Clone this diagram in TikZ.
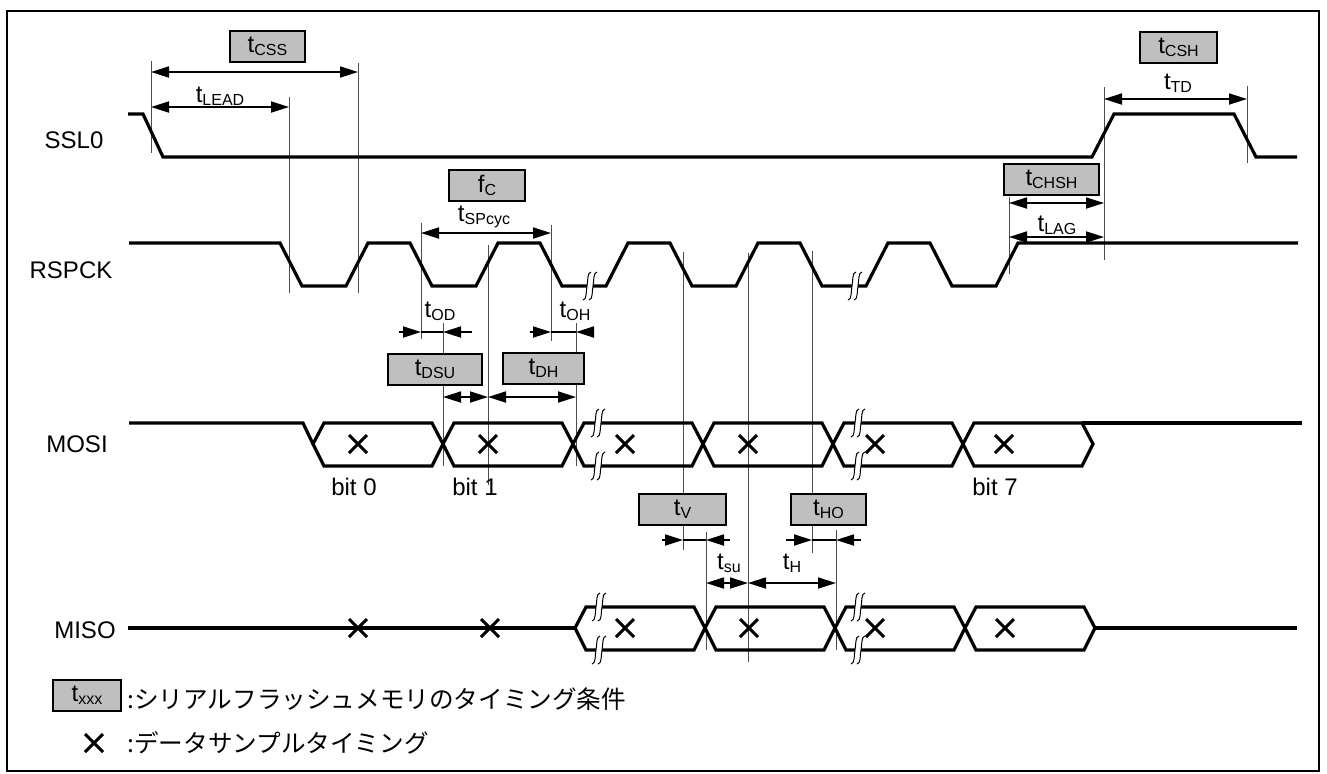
\documentclass[tikz,border=0pt]{standalone}
\usepackage{fontspec}
\setmainfont{Liberation Sans}
\newfontfamily\jp{Noto Sans CJK JP}
\usetikzlibrary{arrows.meta}
\newcommand{\tsb}[2]{#1\raisebox{-1.5pt}{\fontsize{8}{9}\selectfont #2}}

\tikzset{
	brk/.pic={
		\fill[white] (1,-14) .. controls (-3,-14) and (-2,-4) .. (-3,0) .. controls (-4,4) and (-3,14) .. (-7,14) -- (-1,14) .. controls (3,14) and (2,4) .. (3,0) .. controls (4,-4) and (3,-14) .. (7,-14) -- cycle;
		\draw[line width=0.5pt] (1,-14) .. controls (-3,-14) and (-2,-4) .. (-3,0) .. controls (-4,4) and (-3,14) .. (-7,14);
		\draw[line width=0.5pt] (7,-14) .. controls (3,-14) and (4,-4) .. (3,0) .. controls (2,4) and (3,14) .. (-1,14);
	},
	smp/.pic={
		\draw[line width=1.5pt] (-9,-9) -- (9,9) (-9,9) -- (9,-9);
	}
}

\begin{document}
\begin{tikzpicture}[x=0.5pt, y=-0.5pt, font=\fontsize{12}{14}\selectfont,
	sig/.style={line width=1.6pt},
	guide/.style={line width=0.5pt, black!70},
	dim/.style={line width=0.9pt, {Triangle[length=9pt,width=5.5pt]}-{Triangle[length=9pt,width=5.5pt]}},
	half/.style={line width=0.9pt, -{Triangle[length=9pt,width=5.5pt]}},
	tbox/.style={draw, line width=1pt, fill=gray!50, minimum height=15.5pt, minimum width=#1, inner sep=0pt}]
	\useasboundingbox (0,0) rectangle (1327,773);
	\draw[line width=1.2pt] (7,11) rectangle (1319,771);

	\node (ssl) at (74,140) {SSL0};
	\node (sck) at (71,270) {RSPCK};
	\node (mosi) at (77,444) {MOSI};
	\node (miso) at (85,630) {MISO};

	\foreach \x/\a/\b in {151/61/153, 289/97/293, 358/63/293, 421/223/339, 551/225/341, 443/323/466, 488/245/485, 576/323/466, 683/252/550, 706/532/650, 748/253/662, 812/251/553, 836/530/650, 1009/197/274, 1104/87/260, 1247/86/163}
		\draw[guide] (\x,\a) -- (\x,\b);

	\draw[sig] (128,114) -- (143,114) -- (163,157) -- (1092,157) -- (1114,114) -- (1234,114) -- (1256,157) -- (1297,157);
	\draw[sig] (129,243) \foreach \f in {280,410,...,930} { -- (\f,243) -- ++(22,43) -- ++(44,0) -- ++(22,-43) } -- (1298,243);
	\draw[sig] (129,423) -- (303,423) -- (313,444);
	\foreach \l in {313,443,...,963}
		\draw[sig] (\l,444) -- ++(11,-21) -- ++(108,0) -- ++(11,21) -- ++(-11,22) -- ++(-108,0) -- cycle;
	\draw[sig] (1082,423) -- (1302,423);
	\draw[sig] (128,628) -- (575,628);
	\foreach \l in {575,705,835,965}
		\draw[sig] (\l,628) -- ++(11,-21) -- ++(108,0) -- ++(11,21) -- ++(-11,22) -- ++(-108,0) -- cycle;
	\draw[sig] (1095,628) -- (1297,628);

	\foreach \p in {(590,286),(855,286),(598,423),(598,466),(858,423),(858,466),(599,607),(599,650),(858,607),(858,650)}
		\pic at \p {brk};
	\foreach \p in {(358,444),(488,444),(625,444),(748,444),(875,444),(1004,444),(358,628),(490,628),(625,628),(749,628),(875,628),(1005,628),(94,743)}
		\pic at \p {smp};

	\foreach \n/\x/\y in {c1/151/72, c2/358/72, l1/151/107, l2/289/107, td1/1104/99, td2/1247/99, ch1/1009/203, ch2/1104/203, lg1/1009/237, lg2/1104/237, sp1/421/233, sp2/551/233, od1/399/332, od2/421/332, od3/443/332, od4/472/332, oh1/530/332, oh2/551/332, oh3/576/332, oh4/593/332, ds1/443/397, ds2/488/397, ds3/576/397, v1/662/540, v2/683/540, v3/706/540, v4/730/540, ho1/786/540, ho2/812/540, ho3/836/540, ho4/861/540, su1/706/583, su2/748/583, su3/836/583}
		\coordinate (\n) at (\x,\y);

	\draw[dim] (c1) -- (c2);
	\draw[dim] (l1) -- (l2);
	\draw[dim] (td1) -- (td2);
	\draw[dim] (ch1) -- (ch2);
	\draw[dim] (lg1) -- (lg2);
	\draw[dim] (sp1) -- (sp2);
	\draw[dim] (ds1) -- (ds2);
	\draw[dim] (ds2) -- (ds3);
	\draw[dim] (su1) -- (su2);
	\draw[dim] (su2) -- (su3);
	\foreach \a in {od,oh,v,ho}{
		\draw[line width=0.9pt] (\a2) -- (\a3);
		\draw[half] (\a1) -- (\a2);
		\draw[half] (\a4) -- (\a3);
	}

	\node[tbox=37.5pt] (css) at (267.5,46.5) {\tsb{t}{CSS}};
	\node[tbox=38.5pt] (csh) at (1178.5,47) {\tsb{t}{CSH}};
	\node[tbox=38pt] (fc) at (487,185) {\tsb{f}{C}};
	\node[tbox=47.5pt] (chsh) at (1051.5,179.5) {\tsb{t}{CHSH}};
	\node[tbox=47pt] (dsu) at (435,369) {\tsb{t}{DSU}};
	\node[tbox=40.5pt] (dh) at (543.5,368.5) {\tsb{t}{DH}};
	\node[tbox=43.5pt] (tv) at (682.5,509.5) {\tsb{t}{V}};
	\node[tbox=37.5pt] (tho) at (828.5,509.5) {\tsb{t}{HO}};

	\node (lead) at (220,96) {\tsb{t}{LEAD}};
	\node (ttd) at (1178,83) {\tsb{t}{TD}};
	\node (spc) at (484,217) {\tsb{t}{SPcyc}};
	\node (lag) at (1057,225) {\tsb{t}{LAG}};
	\node (tod) at (440,311) {\tsb{t}{OD}};
	\node (toh) at (575,311) {\tsb{t}{OH}};
	\node (tsu) at (729,563) {\tsb{t}{su}};
	\node (th) at (792,563) {\tsb{t}{H}};

	\node (b0) at (354,487) {bit 0};
	\node (b1) at (475,487) {bit 1};
	\node (b7) at (995,487) {bit 7};

	\node[tbox=34pt] (keybox) at (87,695) {\tsb{t}{xxx}};
	\node[anchor=west, inner sep=0pt, font=\fontsize{12.3}{14}\selectfont] (key1) at (127,699) {\jp :シリアルフラッシュメモリのタイミング条件};
	\node[anchor=west, inner sep=0pt, font=\fontsize{12.3}{14}\selectfont] (key2) at (127,743) {\jp :データサンプルタイミング};
\end{tikzpicture}
\end{document}
